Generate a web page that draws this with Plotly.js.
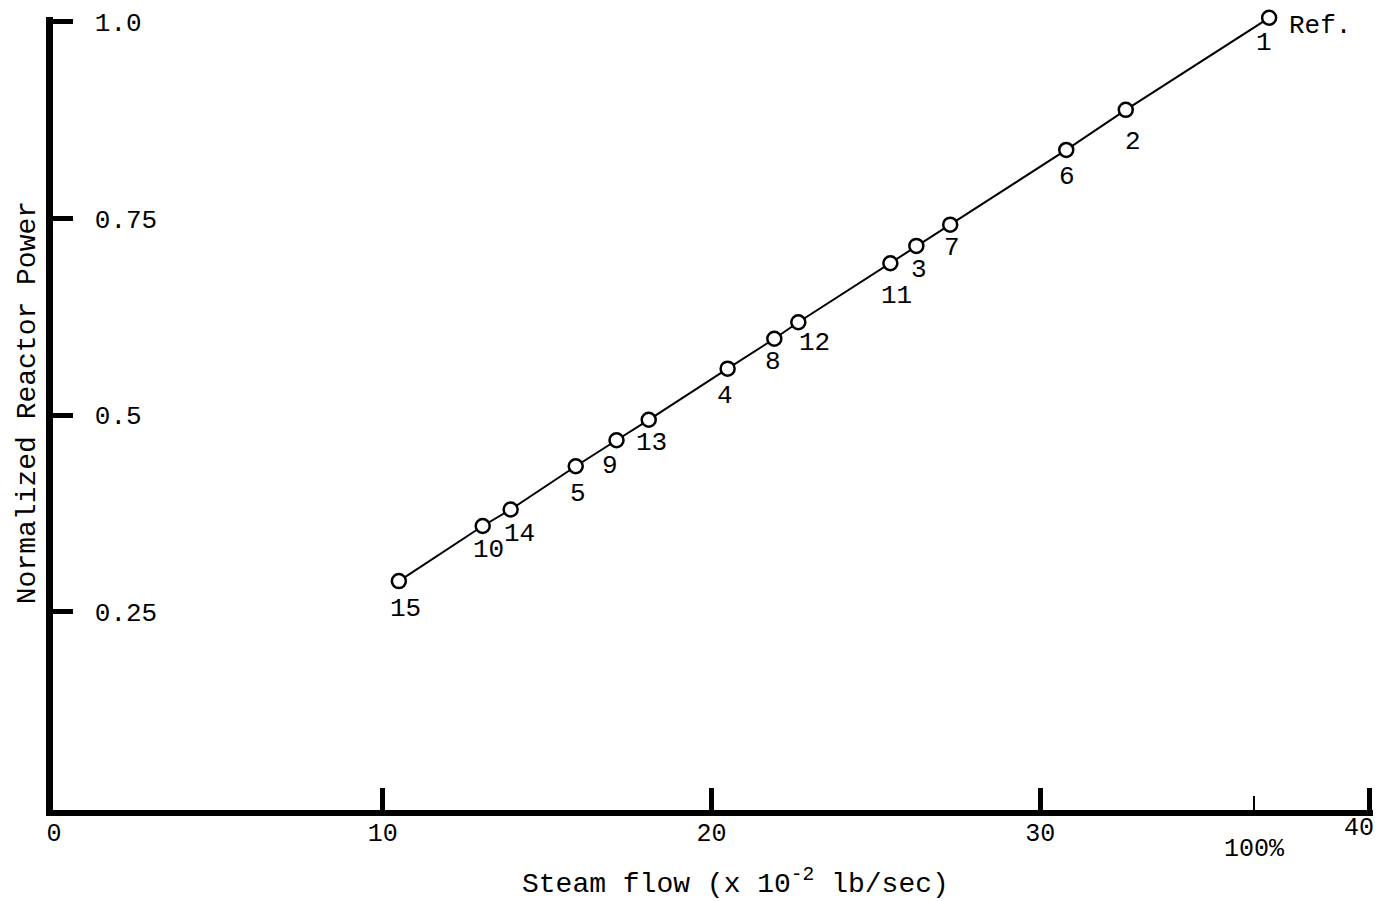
<!DOCTYPE html>
<html>
<head>
<meta charset="utf-8">
<script src="https://cdn.plot.ly/plotly-3.0.1.min.js"></script>
<style>html,body{margin:0;padding:0;background:#fff;}#chart{width:1382px;height:901px;}</style>
</head>
<body>
<div id="chart"></div>
<script>
// Data
var runLabels = ["15", "10", "14", "5", "9", "13", "4", "8", "12", "11", "3", "7", "6", "2", "1"];
var steamFlow = [10.49, 13.04, 13.89, 15.87, 17.11, 18.09, 20.49, 21.91, 22.64, 25.44, 26.23, 27.26, 30.79, 32.60, 36.96];
var reactorPower = [0.289, 0.359, 0.380, 0.435, 0.468, 0.494, 0.559, 0.597, 0.618, 0.693, 0.715, 0.742, 0.837, 0.888, 1.005];
var xTickVals = [0, 10, 20, 30, 40];
var xTickText = ["0", "10", "20", "30", "40"];
var yTickVals = [0.25, 0.5, 0.75, 1.0];
var yTickText = ["0.25", "0.5", "0.75", "1.0"];
var fullFlowVal = [36.5];
var fullFlowText = ["100%"];
var refLabel = "Ref.";
var xTitle = "Steam flow (x 10<sup>-2</sup> lb/sec)";
var yTitle = "Normalized Reactor Power";

// Label offsets (pixels) for the run numbers, layout only
var labelDx = [7, 6, 9, 2, -7, 3, -3, -1, 16, 6, 3, 2, 1, 7, -5];
var labelDy = [28, 24, 25, 28, 26, 23, 27, 23, 21, 33, 24, 23, 27, 32, 25];

var FONT = "Liberation Mono, DejaVu Sans Mono, monospace";
var BLACK = "#000";

var annotations = runLabels.map(function (t, i) {
  return {
    x: steamFlow[i], y: reactorPower[i], xref: "x", yref: "y",
    text: t, showarrow: false, xanchor: "center", yanchor: "middle",
    xshift: labelDx[i], yshift: -labelDy[i],
    font: {family: FONT, size: 26, color: BLACK}
  };
});
var last = steamFlow.length - 1;
annotations.push({
  x: steamFlow[last], y: reactorPower[last], xref: "x", yref: "y",
  text: refLabel, showarrow: false, xanchor: "left", yanchor: "middle",
  xshift: 18, yshift: -8,
  font: {family: FONT, size: 26, color: BLACK}
});
// Axis titles
annotations.push({
  xref: "paper", yref: "paper", x: 0.517, y: 0, yshift: -72,
  xanchor: "center", yanchor: "middle", showarrow: false,
  text: xTitle, font: {family: FONT, size: 28, color: BLACK}
});
annotations.push({
  xref: "paper", yref: "paper", x: 0, y: 0.513, xshift: -26,
  xanchor: "center", yanchor: "middle", showarrow: false, textangle: -90,
  text: yTitle, font: {family: FONT, size: 28, color: BLACK}
});

var trace = {
  x: steamFlow, y: reactorPower, type: "scatter", mode: "lines+markers",
  line: {color: BLACK, width: 2},
  marker: {symbol: "circle", size: 14, color: "#fff", line: {color: BLACK, width: 2.5}},
  cliponaxis: false,
  hoverinfo: "x+y", showlegend: false
};
var dummy2 = {x: [20], y: [0.5], xaxis: "x2", yaxis: "y", mode: "none", type: "scatter", showlegend: false, hoverinfo: "skip"};
var dummy3 = {x: [20], y: [0.5], xaxis: "x3", yaxis: "y", mode: "none", type: "scatter", showlegend: false, hoverinfo: "skip"};

var XR = [-0.03, 40.12];
var lastTick = xTickVals.length - 1;
var mainTickText = xTickText.map(function (t, i) { return i === lastTick ? " " : t; });

var layout = {
  width: 1382, height: 901,
  margin: {l: 53, r: 9, t: 17, b: 91},
  paper_bgcolor: "#fff", plot_bgcolor: "#fff",
  font: {family: FONT, size: 26, color: BLACK},
  showlegend: false,
  xaxis: {
    range: XR, showgrid: false, zeroline: false,
    showline: true, linecolor: BLACK, linewidth: 6,
    ticks: "inside", ticklen: 22, tickwidth: 5, tickcolor: BLACK,
    tickvals: xTickVals, ticktext: mainTickText,
    ticklabelstandoff: -5,
    tickfont: {family: FONT, size: 25, color: BLACK}
  },
  xaxis2: {
    overlaying: "x", side: "bottom", range: XR,
    showgrid: false, zeroline: false, showline: false,
    ticks: "inside", ticklen: 14, tickwidth: 2, tickcolor: BLACK,
    tickvals: fullFlowVal, ticktext: fullFlowText,
    tickfont: {family: FONT, size: 25, color: BLACK},
    ticklabelstandoff: 20
  },
  xaxis3: {
    overlaying: "x", side: "bottom", range: XR,
    showgrid: false, zeroline: false, showline: false,
    ticks: "",
    tickvals: [xTickVals[lastTick]], ticktext: [xTickText[lastTick]],
    ticklabelshift: -10,
    ticklabelstandoff: -1,
    tickfont: {family: FONT, size: 25, color: BLACK}
  },
  yaxis: {
    range: [-0.002, 1.006], showgrid: false, zeroline: false,
    showline: true, linecolor: BLACK, linewidth: 7,
    ticks: "inside", ticklen: 20, tickwidth: 5, tickcolor: BLACK,
    tickvals: yTickVals, ticktext: yTickText,
    ticklabelposition: "inside",
    ticklabeloverflow: "allow",
    ticklabelstandoff: 24,
    tickfont: {family: FONT, size: 26, color: BLACK}
  },
  annotations: annotations
};

Plotly.newPlot("chart", [dummy2, dummy3, trace], layout, {displayModeBar: false, staticPlot: true});
</script>
</body>
</html>
